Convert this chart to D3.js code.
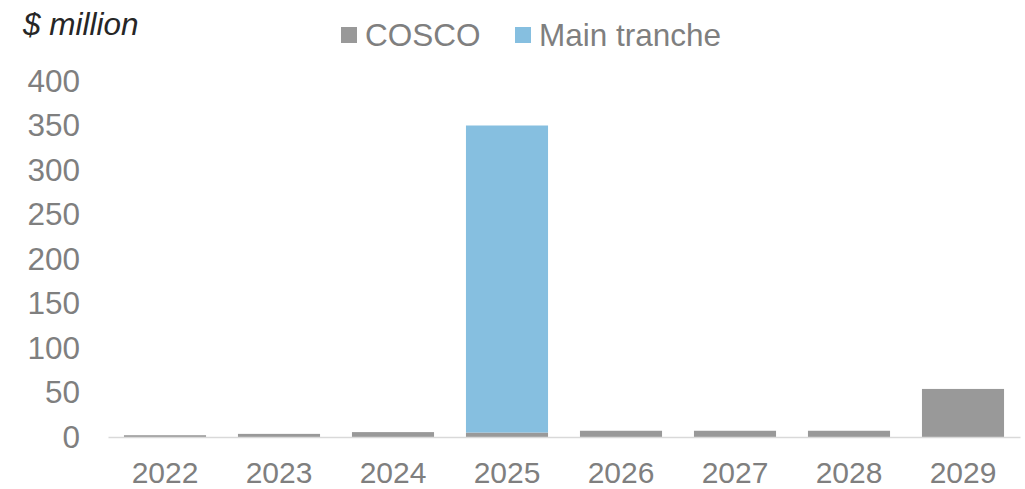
<!DOCTYPE html>
<html>
<head>
<meta charset="utf-8">
<script src="https://cdn.jsdelivr.net/npm/d3@7"></script>
<style>
  html, body { margin: 0; padding: 0; background: #fff; }
  svg { display: block; font-family: "Liberation Sans", Arial, sans-serif; }
</style>
</head>
<body>
<svg id="chart" width="1025" height="489"></svg>
<script>
// Debt maturity profile, $ million
const years = ["2022", "2023", "2024", "2025", "2026", "2027", "2028", "2029"];
const cosco = [2, 3.5, 5.5, 5, 7, 7, 7, 54];
const mainTranche = [0, 0, 0, 345, 0, 0, 0, 0];
const seriesNames = ["COSCO", "Main tranche"];
const seriesColors = ["#999999", "#86bfe0"];
const yTicks = [0, 50, 100, 150, 200, 250, 300, 350, 400];

const svg = d3.select("#chart");
const margin = { left: 108, right: 5, top: 81, bottom: 52 };
const W = 1025, H = 489;
const fontSize = "31.5px";

const x = d3.scaleBand()
  .domain(years)
  .range([margin.left, W - margin.right])
  .paddingInner(0.28)
  .paddingOuter(0.14);

const y = d3.scaleLinear()
  .domain([0, 400])
  .range([H - margin.bottom, margin.top]);

const rows = years.map((yr, i) => ({ year: yr, COSCO: cosco[i], "Main tranche": mainTranche[i] }));
const stacked = d3.stack().keys(seriesNames)(rows);

// bars
svg.append("g").selectAll("g")
  .data(stacked)
  .join("g")
  .attr("fill", (d, i) => seriesColors[i])
  .selectAll("rect")
  .data(d => d)
  .join("rect")
  .attr("x", d => x(d.data.year))
  .attr("width", x.bandwidth())
  .attr("y", d => y(d[1]))
  .attr("height", d => Math.max(0, y(d[0]) - y(d[1])));

// x axis, year labels sit on an explicit baseline
const xAxis = svg.append("g")
  .attr("transform", `translate(0,${y(0)})`)
  .call(d3.axisBottom(x).tickSize(0));
xAxis.select(".domain").attr("stroke", "#d9d9d9").attr("stroke-width", 1.5);
xAxis.selectAll("text")
  .attr("y", 45.5)
  .attr("dy", null)
  .attr("fill", "#7f7f7f")
  .style("font-size", "30px")
  .style("font-family", "Liberation Sans, Arial, sans-serif");

// y axis
const yAxis = svg.append("g")
  .attr("transform", `translate(${margin.left},0)`)
  .call(d3.axisLeft(y).tickValues(yTicks).tickSize(0).tickPadding(28));
yAxis.select(".domain").remove();
yAxis.selectAll("text")
  .attr("fill", "#7f7f7f")
  .style("font-size", fontSize)
  .style("font-family", "Liberation Sans, Arial, sans-serif");

// unit label
svg.append("text")
  .attr("x", 23)
  .attr("y", 35)
  .attr("fill", "#262626")
  .style("font-size", fontSize)
  .style("font-style", "italic")
  .text("$ million");

// legend
const legendItems = [
  { name: seriesNames[0], color: seriesColors[0], x: 341 },
  { name: seriesNames[1], color: seriesColors[1], x: 515 }
];
const lg = svg.append("g").selectAll("g")
  .data(legendItems)
  .join("g")
  .attr("transform", d => `translate(${d.x},0)`);
lg.append("rect")
  .attr("x", 0).attr("y", 27)
  .attr("width", 16).attr("height", 16)
  .attr("fill", d => d.color);
lg.append("text")
  .attr("x", 24)
  .attr("y", 46)
  .attr("fill", "#7f7f7f")
  .style("font-size", fontSize)
  .text(d => d.name);
</script>
</body>
</html>
